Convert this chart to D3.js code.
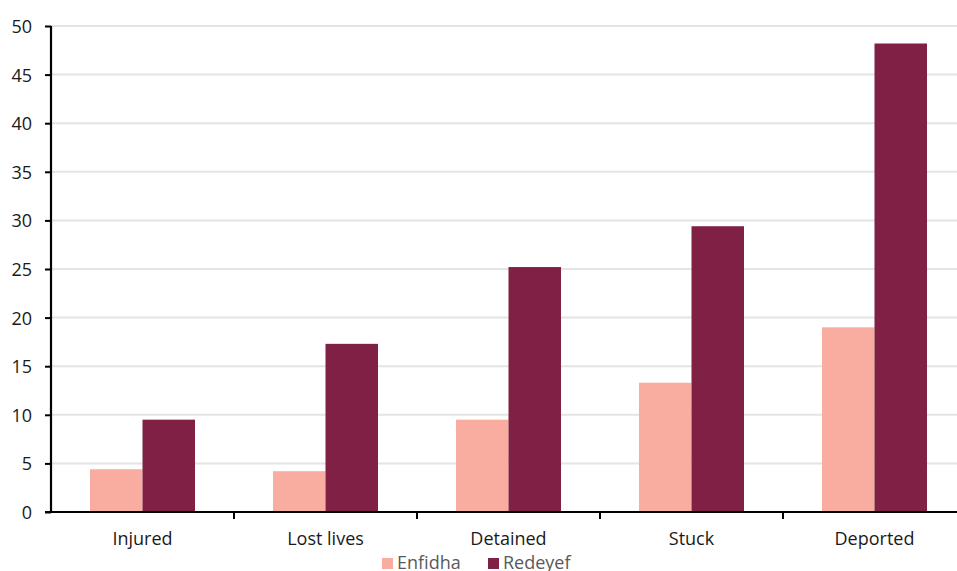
<!DOCTYPE html>
<html>
<head>
<meta charset="utf-8">
<script src="https://cdn.jsdelivr.net/npm/d3@7"></script>
<style>
  html, body { margin: 0; padding: 0; background: #fff; overflow: hidden; }
  svg { display: block; font-family: "Open Sans", Lato, sans-serif; }
</style>
</head>
<body>
<svg id="chart" width="957" height="571"></svg>
<script>
// Outcomes by town
const categories = ["Injured", "Lost lives", "Detained", "Stuck", "Deported"];
const seriesNames = ["Enfidha", "Redeyef"];
const enfidha = [4.4, 4.2, 9.5, 13.3, 19.0];
const redeyef = [9.5, 17.3, 25.2, 29.4, 48.2];
const yTicks = [0, 5, 10, 15, 20, 25, 30, 35, 40, 45, 50];
const colors = ["#F9ADA1", "#7F2044"];

const svg = d3.select("#chart");
const plotLeft = 51, plotRight = 966, plotTop = 26, plotBottom = 512;

const x = d3.scaleBand().domain(categories).range([plotLeft, plotRight]).paddingInner(0).paddingOuter(0);
const xs = d3.scaleBand().domain(seriesNames).range([0, x.bandwidth()]).paddingInner(0).paddingOuter(0.743);
const y = d3.scaleLinear().domain([0, 50]).range([plotBottom, plotTop]);

// Horizontal gridlines
svg.append("g")
  .selectAll("line")
  .data(yTicks.filter(d => d > 0))
  .join("line")
  .attr("x1", plotLeft).attr("x2", 957)
  .attr("y1", d => y(d)).attr("y2", d => y(d))
  .attr("stroke", "#E4E4E4").attr("stroke-width", 2);

// Bars
const rows = categories.map((c, i) => ({ c, vals: [enfidha[i], redeyef[i]] }));
svg.append("g")
  .selectAll("g")
  .data(rows)
  .join("g")
  .attr("transform", d => `translate(${x(d.c)},0)`)
  .selectAll("rect")
  .data(d => d.vals.map((v, j) => ({ s: seriesNames[j], v, j })))
  .join("rect")
  .attr("x", d => xs(d.s))
  .attr("width", xs.bandwidth())
  .attr("y", d => y(d.v))
  .attr("height", d => y(0) - y(d.v))
  .attr("fill", d => colors[d.j]);

// Y axis
const yAxis = svg.append("g")
  .attr("transform", `translate(${plotLeft},0)`)
  .call(d3.axisLeft(y).tickValues(yTicks).tickSize(6).tickPadding(13).tickFormat(d3.format("d")));
yAxis.select(".domain").attr("stroke", "#000").attr("stroke-width", 2.2)
  .attr("d", `M0,${plotTop}V${plotBottom}`);
yAxis.selectAll(".tick line").attr("stroke", "#000").attr("stroke-width", 2);
yAxis.selectAll(".tick text").attr("fill", "#1a1a1a").style("font-size", "18px")
  .attr("font-family", "'Open Sans', sans-serif").attr("dy", "0.36em");

// X axis with tick marks at category boundaries
const xAxis = svg.append("g").attr("transform", `translate(0,${plotBottom})`);
xAxis.append("line")
  .attr("x1", plotLeft - 6).attr("x2", 957)
  .attr("stroke", "#000").attr("stroke-width", 2.2);
xAxis.selectAll("line.bound")
  .data(categories.slice(1))
  .join("line")
  .attr("class", "bound")
  .attr("x1", d => x(d)).attr("x2", d => x(d))
  .attr("y1", 0).attr("y2", 7)
  .attr("stroke", "#000").attr("stroke-width", 2);
xAxis.selectAll("text")
  .data(categories)
  .join("text")
  .attr("x", d => x(d) + x.bandwidth() / 2)
  .attr("y", 33)
  .attr("text-anchor", "middle")
  .attr("fill", "#1a1a1a")
  .style("font-size", "18px")
  .text(d => d);

// Legend
const legend = svg.append("g").attr("transform", "translate(382,569)");
const items = [{ name: "Enfidha", x: 0 }, { name: "Redeyef", x: 106 }];
items.forEach((it, i) => {
  legend.append("rect").attr("x", it.x).attr("y", -11).attr("width", 11).attr("height", 11).attr("fill", colors[i]);
  legend.append("text").attr("x", it.x + 15).attr("y", 0)
    .attr("fill", "#595959").style("font-size", "18px").text(it.name);
});
</script>
</body>
</html>
